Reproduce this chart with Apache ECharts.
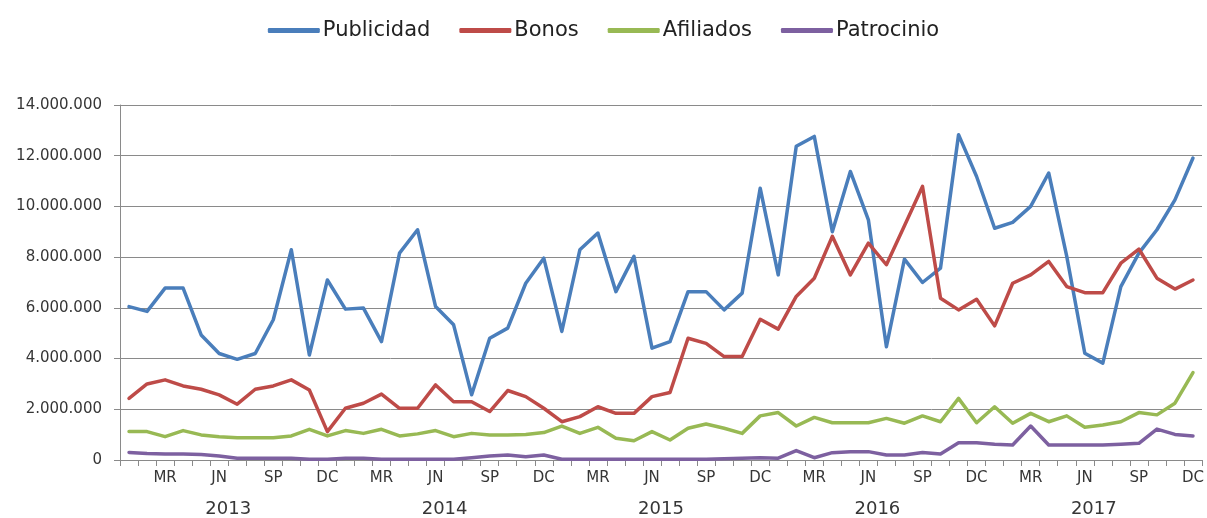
<!DOCTYPE html>
<html>
<head>
<meta charset="utf-8">
<script src="https://cdn.jsdelivr.net/npm/echarts@6/dist/echarts.min.js"></script>
<style>
  html, body { margin: 0; padding: 0; background: #ffffff; }
  #chart { width: 1207px; height: 518px; }
</style>
</head>
<body>
<div id="chart"></div>
<script>
// Monthly income by channel, 2013–2017
const years = ['2013', '2014', '2015', '2016', '2017'];
const monthAbbr = ['EN', 'FB', 'MR', 'AB', 'MY', 'JN', 'JL', 'AG', 'SP', 'OC', 'NV', 'DC'];

const publicidad = [
  6050000, 5860000, 6780000, 6780000, 4930000, 4200000, 3970000, 4200000, 5530000, 8290000,
  4140000, 7100000, 5950000, 5990000, 4670000, 8160000, 9080000, 6050000, 5330000, 2570000,
  4800000, 5200000, 6970000, 7960000, 5070000, 8290000, 8950000, 6640000, 8030000, 4410000,
  4670000, 6640000, 6640000, 5920000, 6580000, 10720000, 7300000, 12370000, 12760000, 9000000,
  11380000, 9470000, 4470000, 7920000, 7000000, 7570000, 12830000, 11180000, 9140000, 9370000,
  10000000, 11320000, 8030000, 4210000, 3820000, 6840000, 8160000, 9080000, 10260000, 11910000
];
const bonos = [
  2430000, 3000000, 3160000, 2920000, 2790000, 2570000, 2200000, 2790000, 2920000, 3160000,
  2760000, 1120000, 2040000, 2240000, 2600000, 2040000, 2040000, 2960000, 2300000, 2300000,
  1910000, 2740000, 2500000, 2040000, 1510000, 1710000, 2100000, 1840000, 1840000, 2500000,
  2660000, 4800000, 4600000, 4080000, 4080000, 5550000, 5160000, 6450000, 7170000, 8820000,
  7300000, 8550000, 7700000, 9240000, 10790000, 6380000, 5920000, 6340000, 5290000, 6970000,
  7300000, 7830000, 6840000, 6600000, 6600000, 7760000, 8320000, 7170000, 6740000, 7100000
];
const afiliados = [
  1120000, 1120000, 920000, 1160000, 990000, 920000, 880000, 880000, 880000, 950000,
  1210000, 950000, 1160000, 1050000, 1210000, 950000, 1030000, 1160000, 920000, 1050000,
  990000, 990000, 1010000, 1080000, 1340000, 1050000, 1290000, 860000, 760000, 1120000,
  790000, 1250000, 1420000, 1250000, 1050000, 1740000, 1870000, 1340000, 1680000, 1470000,
  1470000, 1470000, 1640000, 1450000, 1740000, 1510000, 2430000, 1470000, 2100000, 1450000,
  1840000, 1510000, 1740000, 1290000, 1380000, 1510000, 1870000, 1780000, 2240000, 3450000
];
const patrocinio = [
  300000, 260000, 240000, 240000, 220000, 160000, 70000, 70000, 70000, 70000,
  30000, 30000, 70000, 70000, 30000, 30000, 30000, 30000, 30000, 90000,
  160000, 200000, 130000, 200000, 30000, 30000, 30000, 30000, 30000, 30000,
  30000, 30000, 30000, 50000, 70000, 90000, 70000, 370000, 90000, 290000,
  330000, 330000, 200000, 200000, 300000, 240000, 680000, 680000, 620000, 590000,
  1340000, 590000, 590000, 590000, 590000, 620000, 660000, 1220000, 1010000, 950000
];

const seriesNames = ['Publicidad', 'Bonos', 'Afiliados', 'Patrocinio'];
const seriesColors = ['#4a7ebb', '#be4b48', '#98b954', '#7d60a0'];
const seriesValues = [publicidad, bonos, afiliados, patrocinio];

// one category per month, e.g. "2013-MR"
const months = [];
years.forEach(y => monthAbbr.forEach(m => months.push(y + '-' + m)));

const textColor = '#363636';
const lineGray = '#8a8a8a';
const fontFamily = 'DejaVu Sans, sans-serif';

function thousands(v) {
  return String(v).replace(/\B(?=(\d{3})+(?!\d))/g, '.');
}

const chart = echarts.init(document.getElementById('chart'), null, { renderer: 'canvas' });

chart.setOption({
  animation: false,
  backgroundColor: '#ffffff',
  color: seriesColors,
  legend: {
    top: 15,
    left: 'center',
    itemWidth: 52,
    itemHeight: 5,
    itemGap: 29,
    icon: 'roundRect',
    textStyle: { fontFamily: fontFamily, fontSize: 21, color: '#222222', padding: [0, 0, 0, -2] },
    data: seriesNames
  },
  grid: { left: 120, right: 5, top: 105, bottom: 58, containLabel: false },
  xAxis: [
    {
      type: 'category',
      data: months,
      boundaryGap: true,
      axisLine: { lineStyle: { color: lineGray, width: 1 } },
      axisTick: { show: true, interval: 0, length: 6, lineStyle: { color: lineGray } },
      axisLabel: {
        interval: (index) => index % 3 === 2,
        formatter: (val) => val.split('-')[1],
        color: textColor,
        fontFamily: fontFamily,
        fontSize: 15,
        margin: 11
      },
      splitLine: { show: false }
    },
    {
      type: 'category',
      data: years,
      position: 'bottom',
      boundaryGap: true,
      axisLine: { show: false },
      axisTick: { show: false },
      axisLabel: {
        interval: 0,
        color: textColor,
        fontFamily: fontFamily,
        fontSize: 18,
        margin: 40
      },
      splitLine: { show: false }
    }
  ],
  yAxis: {
    type: 'value',
    min: 0,
    max: 14000000,
    interval: 2000000,
    axisLine: { show: true, lineStyle: { color: lineGray, width: 1 } },
    axisTick: { show: true, length: 6, lineStyle: { color: lineGray } },
    axisLabel: {
      formatter: thousands,
      color: textColor,
      fontFamily: fontFamily,
      fontSize: 15,
      margin: 18
    },
    splitLine: { show: true, lineStyle: { color: lineGray, width: 1 } }
  },
  series: seriesNames.map((name, k) => ({
    name: name,
    type: 'line',
    xAxisIndex: 0,
    data: seriesValues[k],
    showSymbol: false,
    symbol: 'none',
    smooth: false,
    lineStyle: { width: 3.5, color: seriesColors[k], join: 'round', cap: 'round' },
    itemStyle: { color: seriesColors[k] }
  }))
});
</script>
</body>
</html>
